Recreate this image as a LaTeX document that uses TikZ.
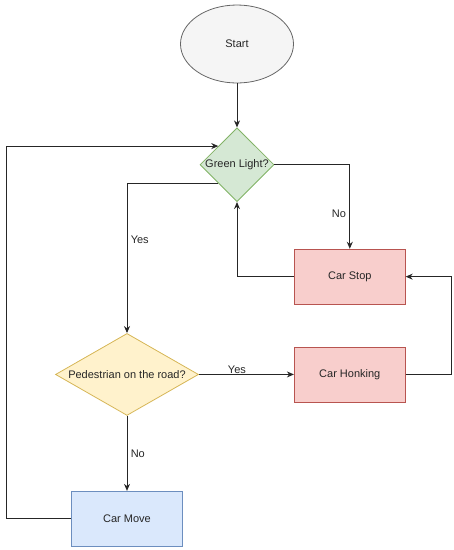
\documentclass[tikz,border=0pt]{standalone}
\usepackage{fontspec}
\setmainfont{Liberation Sans}
\usetikzlibrary{positioning, shapes.geometric, arrows.meta}
\definecolor{startfill}{HTML}{F5F5F5}
\definecolor{startdraw}{HTML}{666666}
\definecolor{greenfill}{HTML}{D5E8D4}
\definecolor{greendraw}{HTML}{82B366}
\definecolor{yellowfill}{HTML}{FFF2CC}
\definecolor{yellowdraw}{HTML}{D6B656}
\definecolor{redfill}{HTML}{F8CECC}
\definecolor{reddraw}{HTML}{B85450}
\definecolor{bluefill}{HTML}{DAE8FC}
\definecolor{bluedraw}{HTML}{6C8EBF}

\begin{document}
\begin{tikzpicture}[x=1pt, y=1pt,
font=\fontsize{11}{13}\selectfont, text=black!85,
startnode/.style={ellipse, draw=startdraw, fill=startfill, line width=0.8pt, minimum width=113pt, minimum height=78pt},
greennode/.style={diamond, draw=greendraw, fill=greenfill, line width=0.8pt, inner sep=0pt, minimum width=74pt, minimum height=73pt},
yellownode/.style={diamond, draw=yellowdraw, fill=yellowfill, line width=0.8pt, inner sep=0pt, shape aspect=1.74, minimum width=143pt, minimum height=82pt},
rednode/.style={rectangle, draw=reddraw, fill=redfill, line width=0.8pt, minimum width=111pt, minimum height=55pt},
bluenode/.style={rectangle, draw=bluedraw, fill=bluefill, line width=0.8pt, minimum width=111pt, minimum height=55pt},
line/.style={draw=black!85, line width=0.9pt, -{Stealth[length=7pt,width=6pt]}},
]
\useasboundingbox (0,0) rectangle (454,-550);
%Nodes
\node[startnode]      (Start)                                           at (237,-44) {Start};
\node[greennode]      (GreenLight)      [below=44pt of Start]           {Green Light?};
\node[yellownode]     (Ped)             [below=131pt of GreenLight, xshift=-110pt] {Pedestrian on the road?};
\node[rednode]        (Honk)            [right=95pt of Ped]             {Car Honking};
\node[rednode]        (Stop)            [above=42pt of Honk]            {Car Stop};
\node[bluenode]       (Move)            [below=75pt of Ped]             {Car Move};

%Lines
\draw[line] (Start.south) -- (GreenLight.north);
\draw[line] (GreenLight.east) -| node[pos=0.79, left] {No} (Stop.north);
\draw[line] (Stop.west) -| (GreenLight.south);
\draw[line] (GreenLight.south west) -| node[pos=0.69, right] {Yes} (Ped.north);
\draw[line] (Ped.east) -- node[pos=0.4, above, inner sep=0.5pt] {Yes} (Honk.west);
\draw[line] (Ped.south) -- node[midway, right] {No} (Move.north);
\draw[line] (Honk.east) -- ++(46,0) |- (Stop.east);
\draw[line] (Move.west) -- ++(-65,0) |- (GreenLight.north west);

\end{tikzpicture}
\end{document}
